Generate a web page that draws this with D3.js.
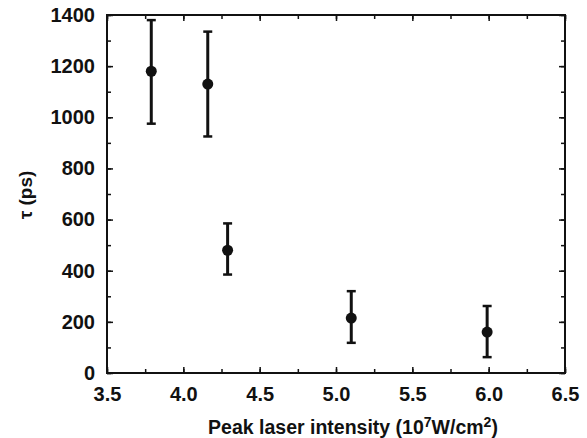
<!DOCTYPE html>
<html>
<head>
<meta charset="utf-8">
<script src="https://cdn.jsdelivr.net/npm/d3@7"></script>
<style>
  body { margin: 0; background: #fff; }
  text { font-family: "Liberation Sans", Arial, sans-serif; font-weight: bold; fill: #111; }
</style>
</head>
<body>
<div id="mainArea"></div>
<script>
// data
var intensity = [3.79, 4.16, 4.29, 5.10, 5.99];   // 10^7 W/cm2
var tau       = [1180, 1130, 480, 215, 160];       // ps
var tauLow    = [975, 925, 385, 118, 62];
var tauHigh   = [1380, 1335, 585, 320, 262];
var xTicks = [3.5, 4.0, 4.5, 5.0, 5.5, 6.0, 6.5];
var yTicks = [0, 200, 400, 600, 800, 1000, 1200, 1400];

function mainInit() {
  var width = 587, height = 438;
  var left = 107, right = 565, top = 15, bottom = 373;

  var vis = d3.select("#mainArea").append("svg")
      .attr("width", width).attr("height", height);

  var x = d3.scaleLinear().domain([3.5, 6.5]).range([left, right]);
  var y = d3.scaleLinear().domain([0, 1400]).range([bottom, top]);

  var minorX = d3.range(3.5, 6.51, 0.25);
  var minorY = d3.range(0, 1401, 100);

  // bottom and top axes: ticks pointing inward
  vis.append("g").attr("transform", "translate(0," + bottom + ")")
     .call(d3.axisBottom(x).tickValues(minorX).tickSize(-4).tickFormat(""));
  vis.append("g").attr("transform", "translate(0," + bottom + ")")
     .call(d3.axisBottom(x).tickValues(xTicks).tickSize(-6).tickPadding(14).tickFormat(d3.format(".1f")));
  vis.append("g").attr("transform", "translate(0," + top + ")")
     .call(d3.axisTop(x).tickValues(minorX).tickSize(-4).tickFormat(""));
  vis.append("g").attr("transform", "translate(0," + top + ")")
     .call(d3.axisTop(x).tickValues(xTicks).tickSize(-6).tickFormat(""));

  // left and right axes
  vis.append("g").attr("transform", "translate(" + left + ",0)")
     .call(d3.axisLeft(y).tickValues(minorY).tickSize(-4).tickFormat(""));
  vis.append("g").attr("transform", "translate(" + left + ",0)")
     .call(d3.axisLeft(y).tickValues(yTicks).tickSize(-6).tickPadding(12).tickFormat(d3.format("d")));
  vis.append("g").attr("transform", "translate(" + right + ",0)")
     .call(d3.axisRight(y).tickValues(minorY).tickSize(-4).tickFormat(""));
  vis.append("g").attr("transform", "translate(" + right + ",0)")
     .call(d3.axisRight(y).tickValues(yTicks).tickSize(-6).tickFormat(""));

  vis.selectAll(".domain").remove();
  vis.selectAll(".tick line").attr("stroke", "#111").attr("stroke-width", 1.5);
  vis.selectAll(".tick text").attr("font-size", 20).style("font-size", "20px").attr("fill", "#111")
     .style("font-family", "'Liberation Sans', Arial, sans-serif").style("font-weight", "bold");

  // frame
  vis.append("rect")
     .attr("x", left).attr("y", top)
     .attr("width", right - left).attr("height", bottom - top)
     .attr("fill", "none").attr("stroke", "#111").attr("stroke-width", 2);

  var pts = intensity.map(function(d, i) {
    return {x: d, y: tau[i], lo: tauLow[i], hi: tauHigh[i]};
  });

  // error bars
  vis.selectAll("line.err").data(pts).enter().append("line")
     .attr("class", "err")
     .attr("x1", function(d) { return x(d.x); })
     .attr("x2", function(d) { return x(d.x); })
     .attr("y1", function(d) { return y(d.lo); })
     .attr("y2", function(d) { return y(d.hi); })
     .attr("stroke", "#111").attr("stroke-width", 3);
  ["lo", "hi"].forEach(function(k) {
    vis.selectAll("line.cap" + k).data(pts).enter().append("line")
       .attr("class", "cap" + k)
       .attr("x1", function(d) { return x(d.x) - 4.5; })
       .attr("x2", function(d) { return x(d.x) + 4.5; })
       .attr("y1", function(d) { return y(d[k]); })
       .attr("y2", function(d) { return y(d[k]); })
       .attr("stroke", "#111").attr("stroke-width", 2.5);
  });

  vis.selectAll("circle.nodes").data(pts).enter().append("circle")
     .attr("class", "nodes")
     .attr("cx", function(d) { return x(d.x); })
     .attr("cy", function(d) { return y(d.y); })
     .attr("r", 5.5)
     .attr("fill", "#111");

  // axis titles
  var xt = vis.append("text")
     .attr("x", 353).attr("y", 434)
     .attr("text-anchor", "middle")
     .style("font-size", "19.5px");
  xt.append("tspan").text("Peak laser intensity (10");
  xt.append("tspan").attr("dy", -7).style("font-size", "14px").text("7");
  xt.append("tspan").attr("dy", 7).text("W/cm");
  xt.append("tspan").attr("dy", -7).style("font-size", "14px").text("2");
  xt.append("tspan").attr("dy", 7).text(")");

  vis.append("text")
     .attr("transform", "translate(32,195) rotate(-90)")
     .attr("text-anchor", "middle")
     .style("font-size", "19px")
     .text("\u03c4 (ps)");
}

window.onload = mainInit;
</script>
</body>
</html>
